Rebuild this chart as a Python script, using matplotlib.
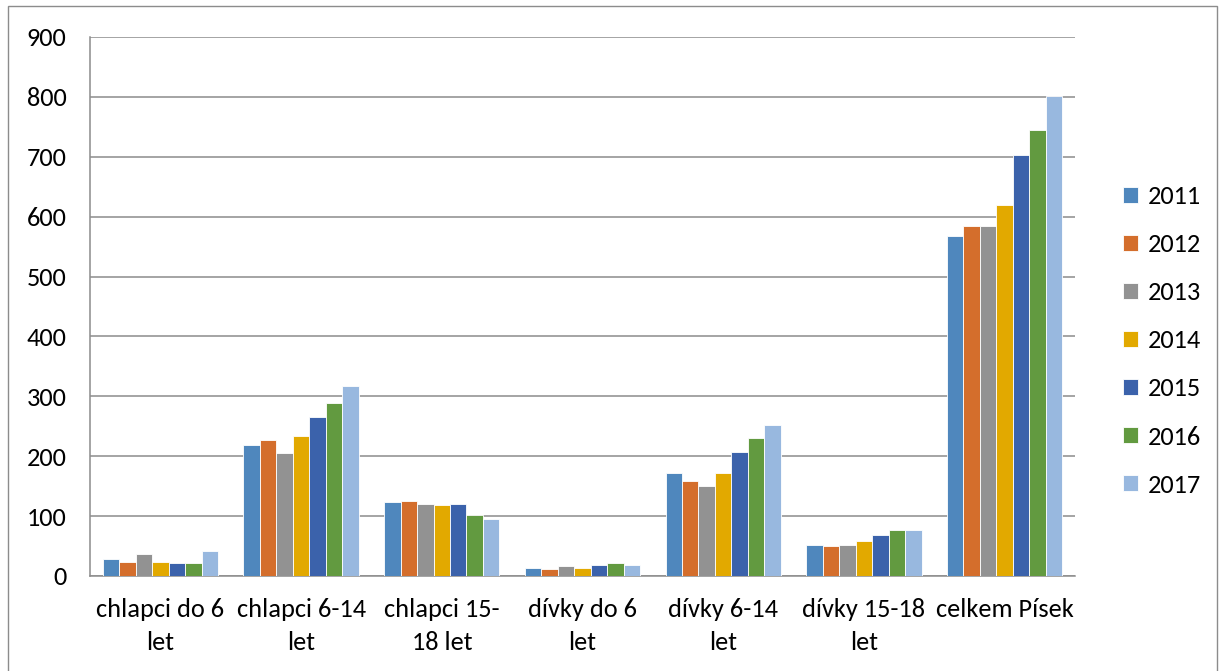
import numpy as np
import matplotlib.pyplot as plt
from matplotlib.patches import Rectangle

# categories and yearly values
categories = ["chlapci do 6\nlet", "chlapci 6-14\nlet", "chlapci 15-\n18 let",
              "dívky do 6\nlet", "dívky 6-14\nlet", "dívky 15-18\nlet", "celkem Písek"]
years = ["2011", "2012", "2013", "2014", "2015", "2016", "2017"]
v2011 = [28, 218, 123, 13, 172, 52, 568]
v2012 = [23, 227, 126, 11, 159, 50, 584]
v2013 = [36, 206, 120, 16, 150, 52, 584]
v2014 = [23, 233, 118, 14, 172, 58, 620]
v2015 = [22, 265, 120, 18, 207, 68, 703]
v2016 = [22, 289, 101, 21, 230, 76, 744]
v2017 = [41, 318, 95, 18, 252, 77, 801]
series = [v2011, v2012, v2013, v2014, v2015, v2016, v2017]
colors = ["#4F87BD", "#D46E2C", "#929292", "#E2A900", "#3B62AB", "#629A40", "#98B8DF"]

plt.rcParams['font.family'] = ['Carlito', 'Lato', 'DejaVu Sans']

fig = plt.figure(figsize=(12.25, 6.71), dpi=100)
ax = fig.add_axes([0.0735, 0.1416, 0.804, 0.8033])

x = np.arange(len(categories))
w = 0.117
for i, (vals, c) in enumerate(zip(series, colors)):
    ax.bar(x + (i - 3) * w, vals, w, color=c, edgecolor="white", linewidth=0.6,
           label=years[i], zorder=3)

ax.set_xlim(-0.5, len(categories) - 0.5)
ax.set_ylim(0, 900)
ax.set_yticks(range(0, 901, 100))
ax.yaxis.grid(True, color="#8c8c8c", linewidth=1.1, zorder=0)
ax.set_xticks(x)
ax.set_xticklabels(categories, fontsize=19, linespacing=1.52)
ax.tick_params(axis="x", length=0, pad=16)
ax.tick_params(axis="y", length=0, labelsize=19, pad=17)

for s in ["top", "right"]:
    ax.spines[s].set_visible(False)
for s in ["left", "bottom"]:
    ax.spines[s].set_color("#8c8c8c")
    ax.spines[s].set_linewidth(1.1)

fig.legend(loc="center left", bbox_to_anchor=(0.897, 0.492), frameon=False,
           fontsize=19, handlelength=0.57, handleheight=0.57, labelspacing=0.95,
           handletextpad=0.4)

fig.patches.append(Rectangle((8 / 1225, -0.01), 1209 / 1225, 1.01 - 6 / 671,
                             transform=fig.transFigure, fill=False,
                             edgecolor="#8c8c8c", linewidth=1))

plt.savefig("out.png", dpi=100)
